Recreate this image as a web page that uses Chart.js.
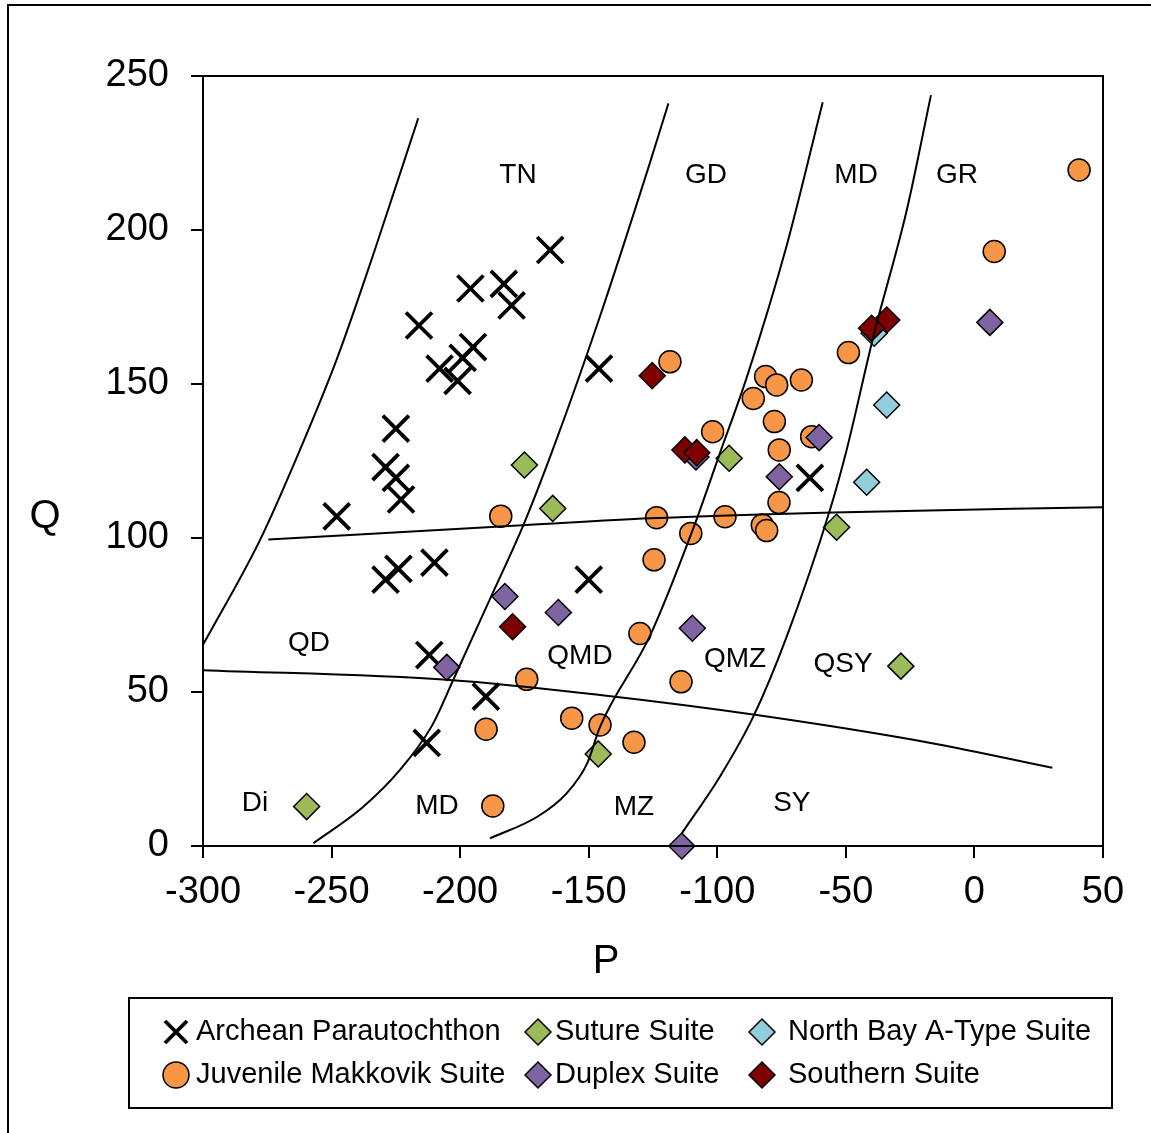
<!DOCTYPE html>
<html>
<head>
<meta charset="utf-8">
<title>P-Q diagram</title>
<script src="https://cdn.jsdelivr.net/npm/chart.js@4.4.1/dist/chart.umd.min.js"></script>
<style>
  html, body { margin: 0; padding: 0; background: #fff; }
  #wrap { position: relative; width: 1151px; height: 1133px; }
</style>
</head>
<body>
<div id="wrap"><canvas id="pq" width="1151" height="1133"></canvas></div>
<script>
// Sample compositions (P, Q) per suite
const archeanP = [-165, -196, -183, -180, -216, -146, -195, -199, -208, -201, -225, -229, -225, -223, -248, -210, -224, -229, -150, -212, -190, -213, -64];
const archeanQ = [193.5, 181, 182.5, 175.5, 169, 155, 162, 158.5, 155, 151, 135.5, 123, 119.5, 112.5, 107, 92, 90, 86.5, 86.5, 62, 48.5, 33.5, 119.5];

const juvenileP = [40.7, 7.7, -49, -118.4, -81.2, -76.9, -67.3, -86, -77.8, -101.8, -63.3, -75.9, -76, -123.6, -97, -110.3, -82.5, -80.8, -124.6, -130.1, -114.1, -132.4, -184.2, -174.1, -156.6, -145.6, -189.9, -187.3];
const juvenileQ = [219.5, 193, 160.2, 157.2, 152.4, 149.7, 151.3, 145.3, 137.8, 134.5, 132.9, 128.6, 111.5, 106.6, 106.9, 101.5, 104.2, 102.4, 92.9, 69, 53.3, 33.7, 107.1, 54.1, 41.5, 39.3, 37.9, 13];

const sutureP = [-175, -164, -95.4, -53.6, -28.6, -146.3, -259.7];
const sutureQ = [123.7, 109.6, 125.9, 103.5, 58.4, 29.9, 12.8];

const duplexP = [6, -60.4, -75.9, -108.3, -182.6, -161.8, -109.7, -205.2, -113.8];
const duplexQ = [170, 132.6, 119.9, 126.3, 81, 75.8, 70.7, 58, 0];

const northBayP = [-39, -34.1, -41.9];
const northBayQ = [166.5, 143.2, 118.1];

const southernP = [-125.3, -34.1, -40, -112.6, -108, -179.6];
const southernQ = [152.7, 170.8, 168.1, 128.6, 127.7, 71.2];

// Field boundaries, [P, Q], ordered by P
const boundaryTN = [[-300, 65.3], [-277.8, 99.4], [-262.3, 128.6], [-248, 158], [-233, 194], [-216.3, 236.3]];
const boundaryGD = [[-257.1, 0.9], [-238, 12.5], [-223.4, 24.7], [-211, 39], [-202.7, 53.9], [-188.5, 80], [-175, 105], [-162.5, 132], [-145.6, 172], [-126.2, 221.8], [-119, 241.1]];
const boundaryMD = [[-188.4, 2.5], [-170, 9.5], [-158.6, 17.1], [-150.5, 27], [-145.6, 38.7], [-126.2, 68.2], [-109.3, 103.2], [-99, 127.5], [-88.6, 152], [-73, 195], [-59, 241.5]];
const boundaryGR = [[-113.8, 4.1], [-99, 22.5], [-86, 42], [-73, 68], [-56.2, 109.1], [-49.7, 128.6], [-39.3, 165.4], [-26.3, 206.5], [-16.9, 243.8]];
const boundaryUpper = [[-274.6, 99.5], [-174.1, 104.2], [-126.2, 106.4], [-54.9, 108.3], [50, 110]];
const boundaryLower = [[-300, 57.1], [-204, 53.9], [-145.6, 49], [-84.7, 42.5], [-16, 33.3], [30.3, 25.4]];

// Field names placed at [P, Q]
const fieldLabels = [
  ['TN', -177.5, 218.2], ['GD', -104.4, 218.2], ['MD', -46, 218.2], ['GR', -6.8, 218.2],
  ['QD', -258.8, 66.2], ['QMD', -153.4, 62], ['QMZ', -93.1, 61], ['QSY', -51.1, 59.4],
  ['Di', -279.8, 14.3], ['MD', -209, 13.3], ['MZ', -132.4, 13], ['SY', -71, 14.3]
];

const pTicks = [-300, -250, -200, -150, -100, -50, 0, 50];
const qTicks = [0, 50, 100, 150, 200, 250];

const FONT = '"Liberation Sans", Arial, sans-serif';

function zipPoints(xs, ys) {
  return xs.map((x, i) => ({ x: x, y: ys[i] }));
}
function pairPoints(pairs) {
  return pairs.map(p => ({ x: p[0], y: p[1] }));
}

function suite(label, xs, ys, style, fill, order) {
  const isCross = style === 'crossRot';
  return {
    label: label,
    data: zipPoints(xs, ys),
    pointStyle: style,
    pointRadius: isCross ? 18.4 : (style === 'circle' ? 11 : 13),
    pointBorderWidth: isCross ? 3.8 : 1.5,
    pointBorderColor: '#000',
    pointBackgroundColor: fill,
    backgroundColor: fill,
    borderColor: '#000',
    showLine: false,
    clip: false,
    order: order
  };
}

function boundary(pairs) {
  return {
    label: '',
    data: pairPoints(pairs),
    showLine: true,
    borderColor: '#000',
    borderWidth: 2,
    pointRadius: 0,
    cubicInterpolationMode: 'monotone',
    fill: false,
    order: -1
  };
}

const suites = [
  suite('Archean Parautochthon', archeanP, archeanQ, 'crossRot', '#000', 5),
  suite('Juvenile Makkovik Suite', juvenileP, juvenileQ, 'circle', '#F79646', 4),
  suite('Suture Suite', sutureP, sutureQ, 'rectRot', '#9BBB59', 3),
  suite('Duplex Suite', duplexP, duplexQ, 'rectRot', '#8064A2', 2),
  suite('North Bay A-Type Suite', northBayP, northBayQ, 'rectRot', '#92CDDC', 1),
  suite('Southern Suite', southernP, southernQ, 'rectRot', '#7F0000', 0)
];

const boundaries = [boundaryTN, boundaryGD, boundaryMD, boundaryGR, boundaryUpper, boundaryLower].map(boundary);

// Box round the plot, field names, axis titles, outer frame
const diagramDecor = {
  id: 'diagramDecor',
  afterDatasetsDraw(chart) {
    const ctx = chart.ctx;
    const a = chart.chartArea;
    const xs = chart.scales.x, ys = chart.scales.y;
    ctx.save();
    ctx.fillStyle = '#000';
    ctx.font = '28px ' + FONT;
    ctx.textAlign = 'center';
    ctx.textBaseline = 'middle';
    fieldLabels.forEach(l => {
      ctx.fillText(l[0], xs.getPixelForValue(l[1]), ys.getPixelForValue(l[2]) + 1);
    });
    ctx.strokeStyle = '#000';
    ctx.lineWidth = 2;
    ctx.strokeRect(a.left, a.top, a.right - a.left, a.bottom - a.top);
    ctx.restore();
  },
  afterDraw(chart) {
    const ctx = chart.ctx;
    ctx.save();
    ctx.fillStyle = '#000';
    ctx.font = '40px ' + FONT;
    ctx.textAlign = 'center';
    ctx.textBaseline = 'middle';
    ctx.fillText('P', 606, 962);
    ctx.fillText('Q', 45, 517);
    ctx.strokeStyle = '#000';
    ctx.lineWidth = 2;
    ctx.beginPath();
    ctx.moveTo(8, 1140);
    ctx.lineTo(8, 5);
    ctx.lineTo(1160, 5);
    ctx.stroke();
    ctx.restore();
  }
};

// Two-row legend in three columns
const legendRows = [
  [0, 2, 4],
  [1, 3, 5]
];
const legendCols = [{ mark: 176, text: 196 }, { mark: 538, text: 555 }, { mark: 762, text: 788 }];
const legendRowY = [1032, 1075];

function drawMark(ctx, ds, x, y) {
  ctx.save();
  ctx.strokeStyle = '#000';
  ctx.fillStyle = ds.pointBackgroundColor;
  ctx.beginPath();
  if (ds.pointStyle === 'crossRot') {
    const h = 11;
    ctx.lineWidth = 3.8;
    ctx.moveTo(x - h, y - h); ctx.lineTo(x + h, y + h);
    ctx.moveTo(x + h, y - h); ctx.lineTo(x - h, y + h);
    ctx.stroke();
  } else if (ds.pointStyle === 'circle') {
    ctx.lineWidth = 1.5;
    ctx.arc(x, y, 13, 0, Math.PI * 2);
    ctx.fill(); ctx.stroke();
  } else {
    const r = 13;
    ctx.lineWidth = 1.5;
    ctx.moveTo(x - r, y); ctx.lineTo(x, y - r); ctx.lineTo(x + r, y); ctx.lineTo(x, y + r);
    ctx.closePath();
    ctx.fill(); ctx.stroke();
  }
  ctx.restore();
}

const boxLegend = {
  id: 'boxLegend',
  afterDraw(chart) {
    const ctx = chart.ctx;
    ctx.save();
    ctx.strokeStyle = '#000';
    ctx.lineWidth = 2;
    ctx.strokeRect(129, 998, 983, 110);
    ctx.font = '29px ' + FONT;
    ctx.textAlign = 'left';
    ctx.textBaseline = 'middle';
    legendRows.forEach((row, r) => {
      row.forEach((idx, c) => {
        const ds = chart.data.datasets[idx];
        drawMark(ctx, ds, legendCols[c].mark, legendRowY[r]);
        ctx.fillStyle = '#000';
        ctx.fillText(ds.label, legendCols[c].text, legendRowY[r]);
      });
    });
    ctx.restore();
  }
};

new Chart(document.getElementById('pq'), {
  type: 'scatter',
  data: { datasets: suites.concat(boundaries) },
  plugins: [diagramDecor, boxLegend],
  options: {
    responsive: false,
    animation: false,
    layout: { padding: { left: 0, top: 76, right: 48, bottom: 187 } },
    plugins: {
      legend: { display: false },
      tooltip: { enabled: false },
      title: { display: false }
    },
    scales: {
      x: {
        type: 'linear',
        min: -300,
        max: 50,
        afterBuildTicks: scale => { scale.ticks = pTicks.map(v => ({ value: v })); },
        afterFit: scale => { scale.height = 100; },
        border: { display: true, color: '#000', width: 2 },
        grid: { display: true, drawOnChartArea: false, drawTicks: true, tickLength: 12, color: '#000', lineWidth: 2 },
        ticks: { color: '#000', font: { family: FONT, size: 38 }, padding: 12, maxRotation: 0 }
      },
      y: {
        type: 'linear',
        min: 0,
        max: 250,
        afterBuildTicks: scale => { scale.ticks = qTicks.map(v => ({ value: v })); },
        afterFit: scale => { scale.width = 203; },
        border: { display: true, color: '#000', width: 2 },
        grid: { display: true, drawOnChartArea: false, drawTicks: true, tickLength: 12, color: '#000', lineWidth: 2 },
        ticks: { color: '#000', font: { family: FONT, size: 38 }, padding: 22 }
      }
    }
  }
});
</script>
</body>
</html>
